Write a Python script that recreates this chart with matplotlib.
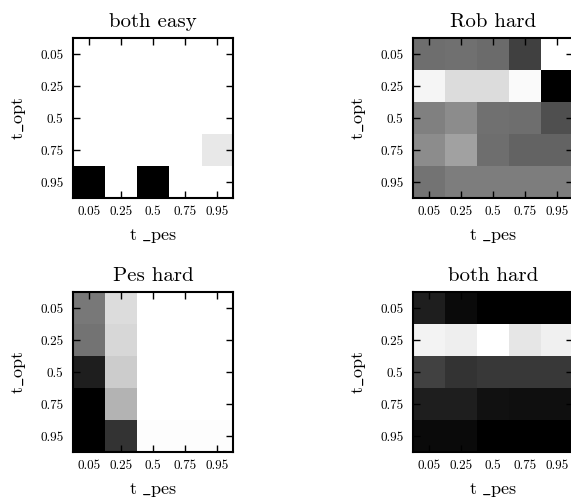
import numpy as np
import matplotlib
matplotlib.use("Agg")
import matplotlib.pyplot as plt

plt.rcParams['font.family'] = ['cmr10', 'DejaVu Serif']
plt.rcParams['mathtext.fontset'] = 'cm'
plt.rcParams['axes.unicode_minus'] = False

t_opt = ["0.05", "0.25", "0.5", "0.75", "0.95"]
t_pes = ["0.05", "0.25", "0.5", "0.75", "0.95"]

# grey level of each cell (rows: t_opt, cols: t_pes), 0 = black, 1 = white
both_easy = [
    [1.00, 1.00, 1.00, 1.00, 1.00],
    [1.00, 1.00, 1.00, 1.00, 1.00],
    [1.00, 1.00, 1.00, 1.00, 1.00],
    [1.00, 1.00, 1.00, 1.00, 0.91],
    [0.00, 1.00, 0.00, 1.00, 1.00],
]
rob_hard = [
    [0.43, 0.44, 0.42, 0.25, 1.00],
    [0.96, 0.86, 0.86, 0.98, 0.00],
    [0.50, 0.55, 0.44, 0.43, 0.31],
    [0.55, 0.63, 0.43, 0.39, 0.39],
    [0.45, 0.49, 0.49, 0.49, 0.49],
]
pes_hard = [
    [0.47, 0.86, 1.00, 1.00, 1.00],
    [0.45, 0.84, 1.00, 1.00, 1.00],
    [0.12, 0.80, 1.00, 1.00, 1.00],
    [0.00, 0.70, 1.00, 1.00, 1.00],
    [0.00, 0.20, 0.99, 0.99, 0.99],
]
both_hard = [
    [0.12, 0.04, 0.00, 0.00, 0.00],
    [0.95, 0.93, 1.00, 0.90, 0.94],
    [0.26, 0.20, 0.22, 0.22, 0.22],
    [0.12, 0.12, 0.07, 0.06, 0.06],
    [0.04, 0.04, 0.00, 0.00, 0.00],
]

panels = [
    ("both easy", both_easy, 73, 38),
    ("Rob hard", rob_hard, 413, 38),
    ("Pes hard", pes_hard, 73, 292),
    ("both hard", both_hard, 413, 292),
]

W, H = 571, 497
fig = plt.figure(figsize=(W / 100, H / 100), dpi=100)

for title, grid, x0, y0 in panels:
    # axes placed in pixels to match the original layout (right column runs off the edge)
    ax = fig.add_axes([x0 / W, 1 - (y0 + 160) / H, 160 / W, 160 / H])
    ax.imshow(np.array(grid), cmap='gray', vmin=0, vmax=1,
              interpolation='nearest', aspect='auto')
    ax.set_xticks(range(len(t_pes)))
    ax.set_xticklabels(t_pes)
    ax.set_yticks(range(len(t_opt)))
    ax.set_yticklabels(t_opt)
    ax.tick_params(direction='in', length=5, width=1, top=True, right=True,
                   labelsize=9.5, pad=6)
    ax.tick_params(axis='y', pad=7)
    for s in ax.spines.values():
        s.set_linewidth(1.5)
    ax.set_title(title, fontsize=15, pad=8)
    ax.set_xlabel(r"$\mathrm{t\ \_pes}$", fontsize=13, labelpad=6)
    ax.set_ylabel(r"$\mathrm{t\_opt}$", fontsize=13, labelpad=9)

fig.savefig("out.png", dpi=100)
